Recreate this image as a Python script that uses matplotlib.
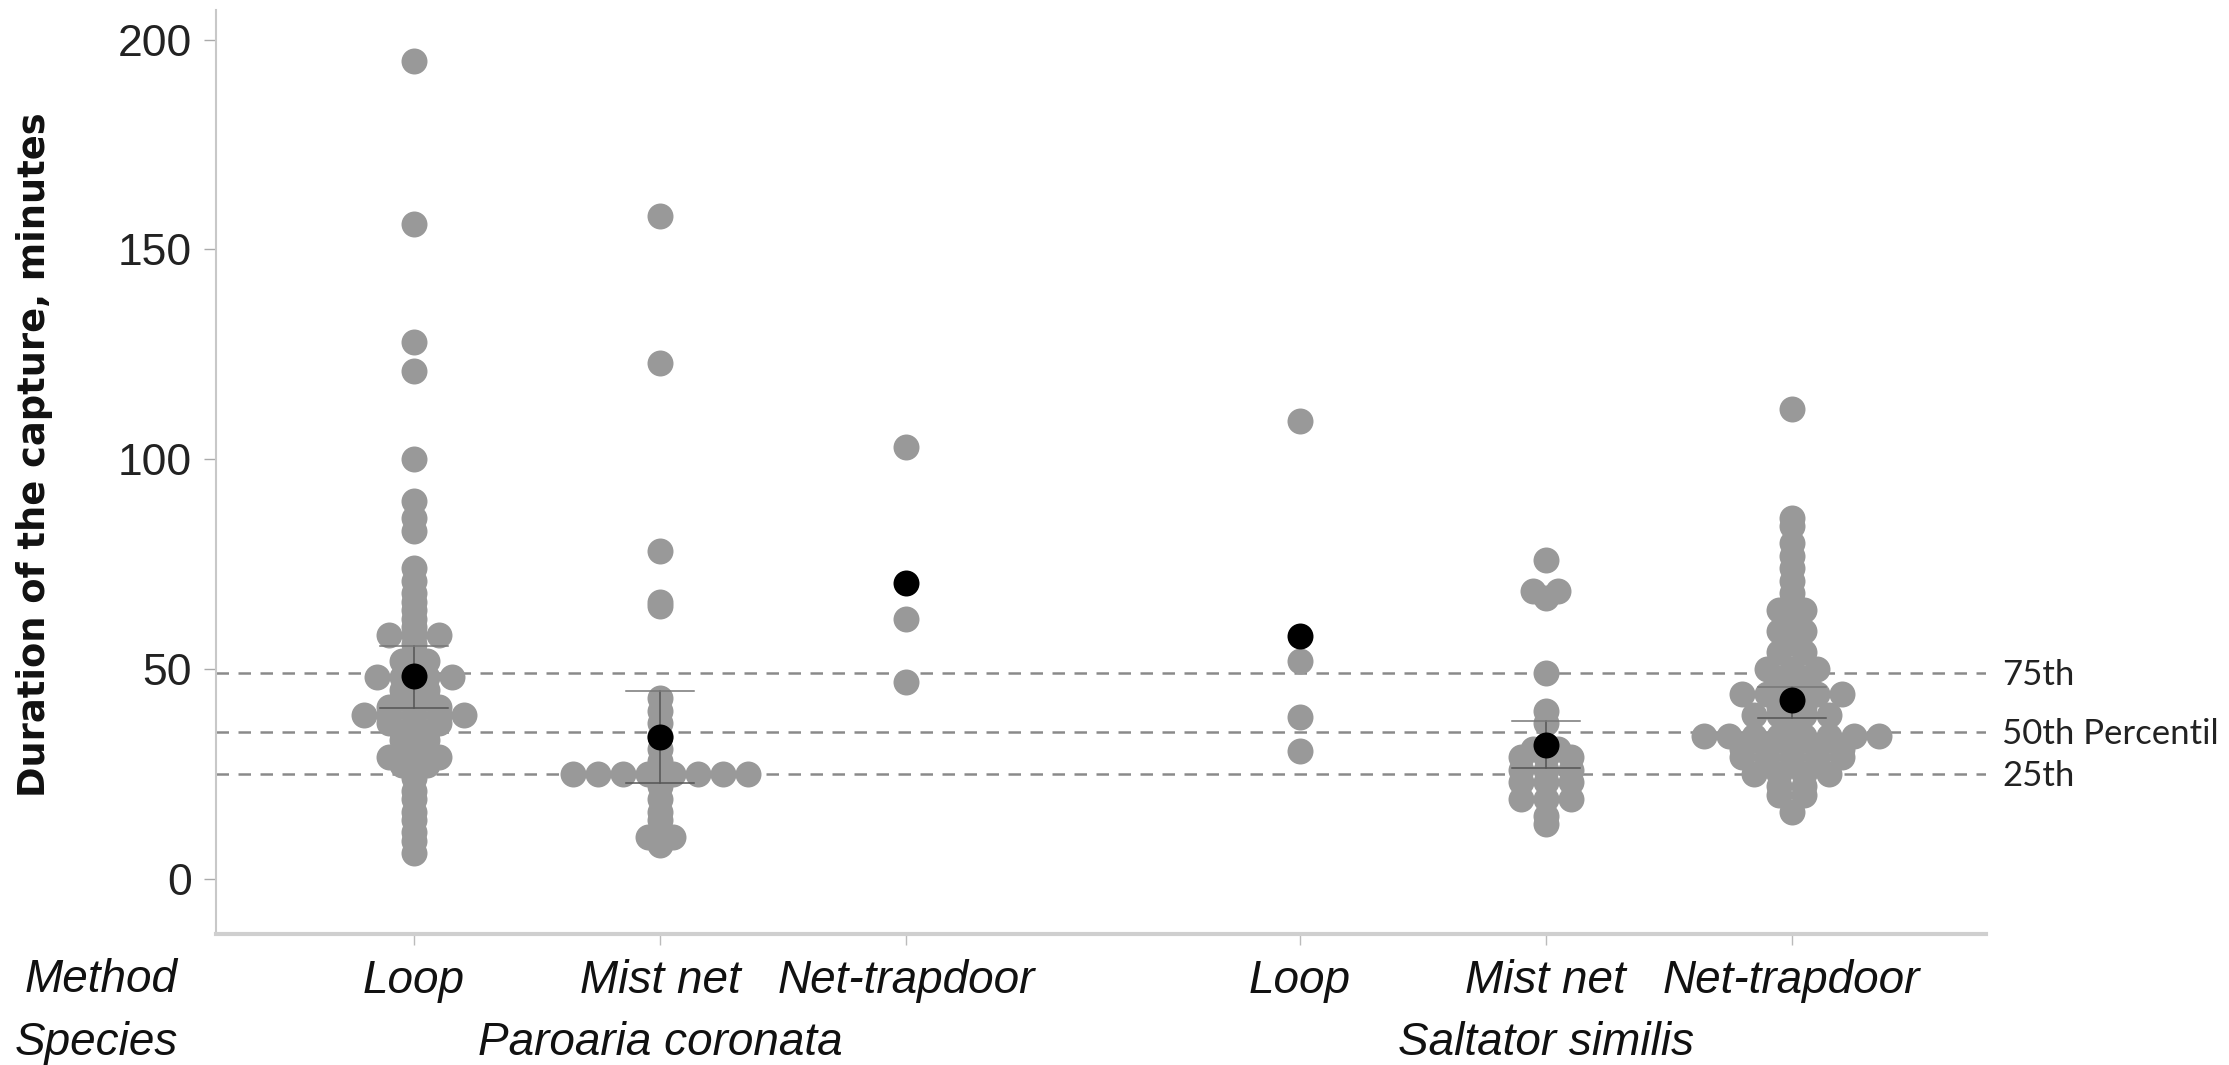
import numpy as np
import matplotlib
matplotlib.use("Agg")
import matplotlib.pyplot as plt
from matplotlib.transforms import blended_transform_factory

# ---------------- data ----------------
species = ["Paroaria coronata", "Saltator similis"]
methods = ["Loop", "Mist net", "Net-trapdoor"]

pc_loop = [195, 156, 128, 121, 100, 90, 86, 83, 74, 71, 68, 66, 64, 62, 60,
           58, 58, 58, 56, 54, 52, 52, 50, 48, 48, 48, 48, 45, 45, 43, 43,
           41, 41, 41, 39, 39, 39, 39, 39, 37, 37, 37, 35, 35, 33, 33, 31,
           29, 29, 29, 27, 27, 24, 21, 19, 16, 14, 11, 9, 6]
pc_mist = [158, 123, 78, 66, 65, 43, 40, 37, 34, 31, 28,
           25, 25, 25, 25, 25, 25, 25, 25, 22, 19, 16, 14, 10, 10, 8]
pc_trap = [103, 62, 47]
ss_loop = [109, 52, 38.5, 30.5]
ss_mist = [76, 68.5, 68.5, 67, 49, 40, 37, 31, 31, 29, 29, 29, 26, 26, 26,
           23, 23, 23, 19, 19, 19, 15, 13]
ss_trap = [112, 86, 84, 80, 77, 74, 71, 68, 66, 64, 64, 62, 59, 59, 57,
           54, 54, 50, 50, 50, 47, 47, 44, 44, 44, 44, 44, 41, 41,
           39, 39, 39, 39, 36, 34, 34, 34, 34, 34, 34, 34, 34,
           31, 31, 31, 31, 31, 29, 29, 29, 29, 29, 27, 27, 27,
           25, 25, 25, 25, 22, 22, 20, 20, 16]

group_values = [pc_loop, pc_mist, pc_trap, ss_loop, ss_mist, ss_trap]
group_means = [48.4, 33.8, 70.5, 57.9, 31.9, 42.6]
ci_low = [40.6, 22.8, np.nan, np.nan, 26.3, 38.2]
ci_high = [55.5, 44.7, np.nan, np.nan, 37.6, 45.7]

ref_levels = [49, 35, 25]
ref_labels = ["75th", "50th Percentil", "25th"]
y_ticks = [0, 50, 100, 150, 200]

# ---------------- layout ----------------
W, H = 2229, 1065
fig = plt.figure(figsize=(W / 100, H / 100), dpi=100)
ax = fig.add_axes([216 / W, (H - 934) / H, (1986 - 216) / W, (934 - 10) / H])

species_gap = 1.6
positions = []
for s in range(len(species)):
    for m in range(len(methods)):
        positions.append(1 + m + s * (len(methods) - 1 + species_gap))
positions = np.array(positions)

ax.set_xlim(0.195, 7.39)
ax.set_ylim(-13.2, 207.1)

ax_w_px = (1986 - 216)
x_per_px = (ax.get_xlim()[1] - ax.get_xlim()[0]) / ax_w_px
spacing = 25 * x_per_px      # side-by-side spacing for equal values
cap_half = 34 * x_per_px

# reference percentile lines
for lev in ref_levels:
    ax.axhline(lev, color="#8a8a8a", lw=1.8, ls=(0, (5, 3.8)), zorder=1)

point_color = "#999999"
msize = 350
for pos, vals in zip(positions, group_values):
    vals = np.asarray(vals, dtype=float)
    xs = np.full(len(vals), pos, dtype=float)
    uniq, counts = np.unique(vals, return_counts=True)
    for u, c in zip(uniq, counts):
        idx = np.where(vals == u)[0]
        offs = (np.arange(c) - (c - 1) / 2) * spacing
        xs[idx] = pos + offs
    ax.scatter(xs, vals, s=msize, color=point_color, linewidths=0, zorder=2)

# CI bars and means
for pos, m, lo, hi in zip(positions, group_means, ci_low, ci_high):
    if not np.isnan(lo):
        ax.plot([pos, pos], [lo, hi], color="#555555", lw=1.1, zorder=3)
        ax.plot([pos - cap_half, pos + cap_half], [lo, lo], color="#555555", lw=1.1, zorder=3)
        ax.plot([pos - cap_half, pos + cap_half], [hi, hi], color="#777777", lw=1.1, zorder=3)
    ax.scatter([pos], [m], s=msize, color="black", linewidths=0, zorder=4)

# axes styling
for side in ("top", "right"):
    ax.spines[side].set_visible(False)
ax.spines["left"].set_color("#c8c8c8")
ax.spines["left"].set_linewidth(1.5)
ax.spines["bottom"].set_color("#cfcfcf")
ax.spines["bottom"].set_linewidth(3)

ax.set_yticks(y_ticks)
ax.set_yticklabels([str(t) for t in y_ticks], family="Liberation Sans")
ax.tick_params(axis="y", labelsize=32, length=8.6, width=1, color="#aaaaaa",
               pad=9, labelcolor="#222222")

ax.set_xticks(positions)
ax.set_xticklabels(methods * len(species), family="Liberation Sans",
                   fontstyle="italic")
ax.tick_params(axis="x", labelsize=33, length=8, width=1, color="#bbbbbb",
               pad=10, labelcolor="#111111")

# species labels
trans = blended_transform_factory(ax.transData, fig.transFigure)
for s, name in enumerate(species):
    center = positions[s * len(methods) + 1]
    ax.text(center, (H - 1055) / H, name, transform=trans, ha="center",
            va="baseline", fontsize=33, fontstyle="italic",
            family="Liberation Sans", color="#111111")

fig.text(178 / W, (H - 992) / H, "Method", ha="right", va="baseline",
         fontsize=33, fontstyle="italic", family="Liberation Sans", color="#111111")
fig.text(178 / W, (H - 1055) / H, "Species", ha="right", va="baseline",
         fontsize=33, fontstyle="italic", family="Liberation Sans", color="#111111")

# y label
fig.text(35 / W, 1 - 455 / H, "Duration of the capture, minutes", rotation=90,
         ha="center", va="center", fontsize=26.5, fontweight="bold",
         family="DejaVu Sans", color="#111111")

# percentile labels
rtrans = blended_transform_factory(ax.transAxes, ax.transData)
for lev, lab in zip(ref_levels, ref_labels):
    ax.annotate(lab, xy=(1, lev), xycoords=rtrans, xytext=(11.5, -8.6),
                textcoords="offset points", ha="left", va="baseline",
                fontsize=25, family="Lato", color="#222222",
                annotation_clip=False)

fig.savefig("out.png", dpi=100, facecolor="white")
